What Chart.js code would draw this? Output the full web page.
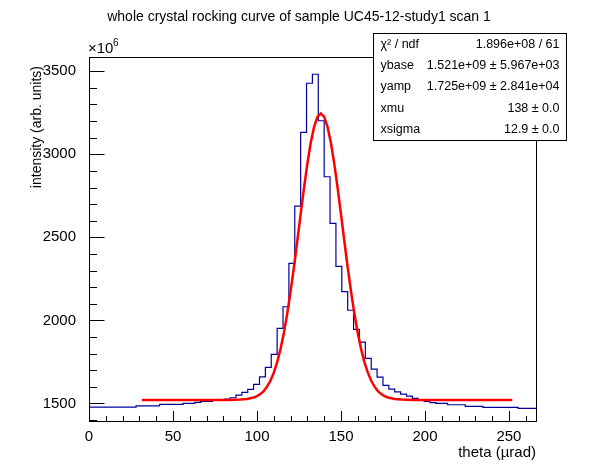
<!DOCTYPE html>
<html>
<head>
<meta charset="utf-8">
<script src="https://cdn.jsdelivr.net/npm/chart.js@4/dist/chart.umd.min.js"></script>
<style>
  html, body { margin: 0; background: #fff; }
  #wrap { width: 596px; height: 472px; }
</style>
</head>
<body>
<div id="wrap"><canvas id="rocking_curve"></canvas></div>
<script>
// histogram: bin width in µrad, first bin starts at 0, values in units of 10^6
const binWidth = 3.5;
const binValues = [
    1478, 1478, 1478, 1478, 1478, 1478, 1478, 1478, 1478,   // 0 - 8
    1485, 1485, 1485, 1485, 1494, 1494, 1494, 1494,         // 9 - 16
    1500, 1500, 1506, 1512, 1512, 1518, 1518, 1526,         // 17 - 24
    1534, 1550, 1566, 1584, 1614, 1660, 1717, 1795,         // 25 - 32
    1952, 2082, 2343, 2688, 3132, 3428, 3482, 3202,         // 33 - 40
    2865, 2584, 2325, 2173, 2061, 1946, 1869, 1771,         // 41 - 48
    1707, 1658, 1608, 1586, 1570, 1556, 1544, 1530,         // 49 - 56
    1518, 1512, 1505, 1500, 1500, 1492, 1492, 1492,         // 57 - 64
    1482, 1482, 1482, 1476, 1476, 1476, 1476, 1476,         // 65 - 72
    1476, 1470, 1470, 1470                                  // 73 - 76
];

// gaussian fit curve
const fitX = [31.5, 83, 90, 94, 98, 100, 102, 104, 106, 108, 110, 112, 114, 116, 118, 120,
              122, 124, 126, 128, 130, 132, 134, 136, 138, 140, 142, 144, 146, 148, 150,
              152, 154, 156, 158, 160, 162, 164, 166, 168, 170, 172, 174, 176, 178, 182,
              186, 193, 252];
const fitY = [1521, 1521, 1523, 1526, 1535, 1544, 1556, 1574, 1601, 1636, 1685, 1747, 1827, 1924, 2040, 2173,
              2320, 2478, 2640, 2798, 2944, 3069, 3165, 3225, 3246, 3225, 3165, 3069, 2944, 2798, 2640,
              2478, 2320, 2173, 2040, 1924, 1827, 1747, 1685, 1636, 1601, 1574, 1556, 1544, 1535, 1526,
              1523, 1521, 1521];

const xTicks = [0, 50, 100, 150, 200, 250];
const yTicks = [1500, 2000, 2500, 3000, 3500];

const statsLines = [
    ['\u03C7\u00B2 / ndf', '1.896e+08 / 61'],
    ['ybase', '1.521e+09 \u00B1 5.967e+03'],
    ['yamp', '1.725e+09 \u00B1 2.841e+04'],
    ['xmu', '138 \u00B1 0.0'],
    ['xsigma', '12.9 \u00B1 0.0']
];

const FONT = '"Liberation Sans", Arial, Helvetica, sans-serif';
Chart.defaults.font.family = FONT;
Chart.defaults.color = '#000';

const histPoints = binValues.map((v, i) => ({x: i * binWidth, y: v}));
histPoints.push({x: binValues.length * binWidth, y: binValues[binValues.length - 1]});
const fitPoints = fitX.map((x, i) => ({x: x, y: fitY[i]}));

// ROOT look: frame, inward ticks, titles and the stats box
const rootStyle = {
    id: 'rootStyle',
    afterDraw(chart) {
        const {ctx, chartArea: a, scales: {x, y}} = chart;
        ctx.save();
        ctx.strokeStyle = '#000';
        ctx.lineWidth = 1;
        const L = Math.round(a.left) + 0.5, R = Math.round(a.right) - 0.5;
        const T = Math.round(a.top) + 0.5, B = Math.round(a.bottom) - 0.5;
        ctx.strokeRect(L, T, R - L, B - T);

        ctx.beginPath();
        for (let v = 0; v <= x.max; v += 10) {
            const px = Math.round(x.getPixelForValue(v)) + 0.5;
            const len = v % 50 === 0 ? 10.5 : 5.5;
            ctx.moveTo(px, B);
            ctx.lineTo(px, B - len);
        }
        for (let v = 1400; v <= y.max; v += 100) {
            if (v < y.min) continue;
            const py = Math.round(y.getPixelForValue(v)) + 0.5;
            const len = v % 500 === 0 ? 15 : 7.5;
            ctx.moveTo(L, py);
            ctx.lineTo(L + len, py);
        }
        ctx.stroke();

        ctx.fillStyle = '#000';
        // title
        ctx.font = '14px ' + FONT;
        ctx.textAlign = 'center';
        ctx.textBaseline = 'middle';
        ctx.fillText('whole crystal rocking curve of sample UC45-12-study1 scan 1', 299, 17);

        // axis titles
        ctx.font = '15px ' + FONT;
        ctx.textAlign = 'right';
        ctx.textBaseline = 'alphabetic';
        ctx.fillText('theta (\u00B5rad)', 536, 457);
        ctx.font = '14px ' + FONT;
        ctx.save();
        ctx.translate(41, 66);
        ctx.rotate(-Math.PI / 2);
        ctx.fillText('intensity (arb. units)', 0, 0);
        ctx.restore();

        // exponent
        ctx.textAlign = 'left';
        ctx.font = '15px ' + FONT;
        ctx.fillText('\u00D710', 88, 53);
        ctx.font = '10px ' + FONT;
        ctx.fillText('6', 113, 46);

        // stats box
        const bx = 373.5, by = 33.5, bw = 193, bh = 107;
        ctx.fillStyle = '#fff';
        ctx.fillRect(bx, by, bw, bh);
        ctx.strokeRect(bx, by, bw, bh);
        ctx.fillStyle = '#000';
        ctx.font = '12.5px ' + FONT;
        ctx.textBaseline = 'middle';
        const rowH = bh / statsLines.length;
        statsLines.forEach((row, i) => {
            const cy = by + rowH * (i + 0.5);
            ctx.textAlign = 'left';
            ctx.fillText(row[0], bx + 7, cy);
            ctx.textAlign = 'right';
            ctx.fillText(row[1], bx + bw - 7, cy);
        });
        ctx.restore();
    }
};

new Chart(document.getElementById('rocking_curve'), {
    type: 'line',
    data: {
        datasets: [{
            label: 'fit',
            data: fitPoints,
            borderColor: '#ff0000',
            borderWidth: 2.5,
            pointRadius: 0,
            tension: 0
        }, {
            label: 'histogram',
            data: histPoints,
            borderColor: '#000099',
            borderWidth: 1.2,
            pointRadius: 0,
            stepped: 'after'
        }]
    },
    options: {
        responsive: true,
        maintainAspectRatio: false,
        animation: false,
        events: [],
        layout: {
            padding: {top: 57, right: 59, left: 0, bottom: 0}
        },
        plugins: {
            legend: {display: false},
            tooltip: {enabled: false}
        },
        scales: {
            x: {
                type: 'linear',
                min: 0,
                max: 266.7,
                grid: {display: false},
                border: {display: false},
                ticks: {font: {size: 15}, padding: -2, maxRotation: 0, autoSkip: false,
                        callback: v => String(v)},
                afterBuildTicks: s => { s.ticks = xTicks.map(v => ({value: v})); },
                afterFit: s => { s.height = 50; }
            },
            y: {
                type: 'linear',
                min: 1388,
                max: 3586,
                grid: {display: false},
                border: {display: false},
                ticks: {font: {size: 15}, padding: 5, callback: v => String(v)},
                afterBuildTicks: s => { s.ticks = yTicks.map(v => ({value: v})); },
                afterFit: s => { s.width = 89; }
            }
        }
    },
    plugins: [rootStyle]
});
</script>
</body>
</html>
